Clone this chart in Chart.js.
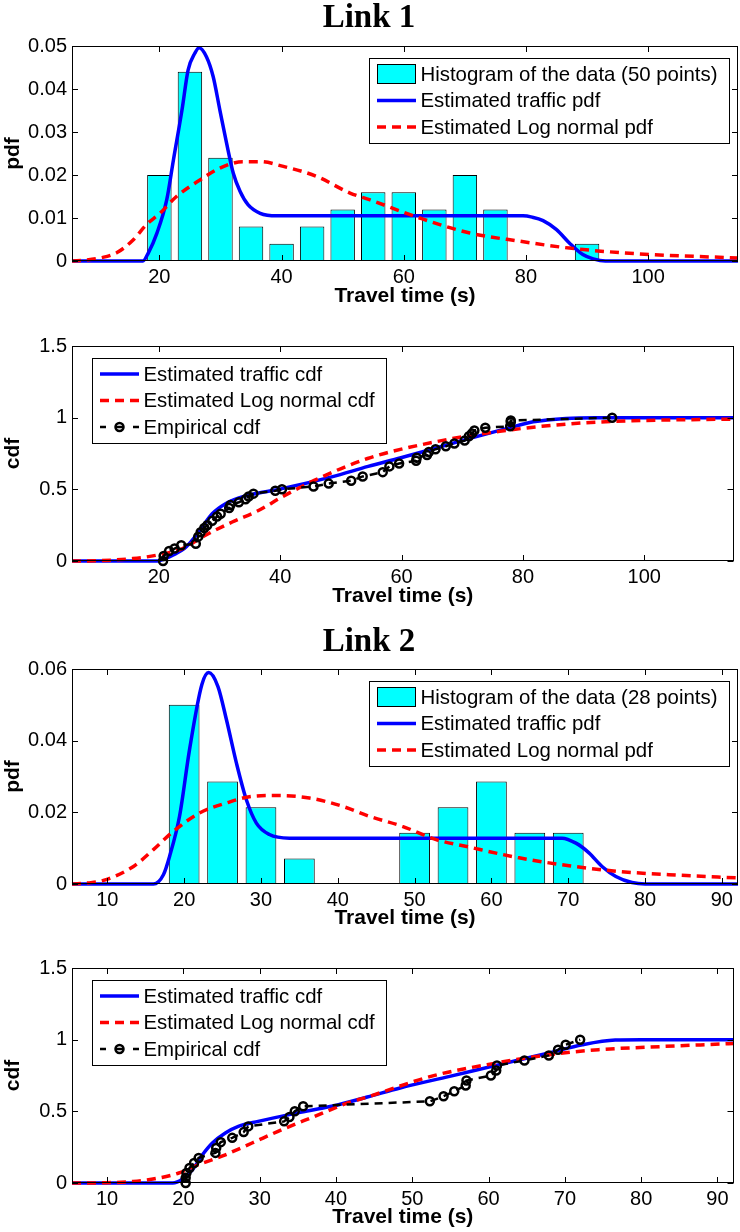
<!DOCTYPE html>
<html>
<head>
<meta charset="utf-8">
<script src="https://cdn.jsdelivr.net/npm/chart.js@4.4.1/dist/chart.umd.min.js"></script>
<style>
  body { margin: 0; background: #fff; }
  #wrap { position: relative; width: 740px; height: 1232px; }
  canvas { position: absolute; left: 0; }
</style>
</head>
<body>
<div id="wrap">
  <canvas id="pdf1" width="740" height="308" style="top:0px"></canvas>
  <canvas id="cdf1" width="740" height="304" style="top:308px"></canvas>
  <canvas id="pdf2" width="740" height="318" style="top:612px"></canvas>
  <canvas id="cdf2" width="740" height="302" style="top:930px"></canvas>
</div>
<script>
// ---- data ----
// link 1
var l1XRange = [5.7, 114.7];
var l1XTicks = [20, 40, 60, 80, 100];
var l1BinCenters = [20, 25, 30, 35, 40, 45, 50, 55, 60, 65, 70, 75, 90];
var l1BinDensity = [0.020, 0.044, 0.024, 0.008, 0.004, 0.008, 0.012, 0.016, 0.016, 0.012, 0.020, 0.012, 0.004];
var l1TrafficPdf = [[5.7,0],[17.3,0],[18.2,0.0019],[19.6,0.0065],[21.2,0.0142],[22.3,0.0235],[23.7,0.0351],
  [24.7,0.0444],[25.8,0.0483],[26.5,0.0496],[27.7,0.0475],[28.8,0.0429],[29.9,0.0351],[31.0,0.0274],
  [32.1,0.0204],[33.2,0.0162],[34.5,0.0131],[36.5,0.0111],[39.2,0.0105],[79.5,0.0105],[81,0.0102],
  [82.8,0.0094],[85,0.0073],[87.1,0.0042],[89.3,0.0015],[91,0.0005],[93,0],[114.7,0]];
var l1LognPdf = [[5.7,0],[8,0.0002],[10.3,0.0007],[13,0.0019],[15.7,0.0049],[17.9,0.0085],[20.1,0.0111],
  [22.8,0.015],[26.7,0.0189],[29.9,0.0216],[33.7,0.0231],[36.5,0.0231],[40.3,0.022],[45.7,0.0197],
  [51.2,0.0158],[54.5,0.0142],[62.6,0.010],[70.8,0.0065],[79,0.0046],[87.1,0.003],[98,0.0017],[114.7,0.0007]];
var l1TrafficCdf = [[5.7,0],[19.8,0],[21,0.015],[22.3,0.04],[24.5,0.098],[26.7,0.21],[28.8,0.33],[31.0,0.40],
  [33.2,0.44],[36.5,0.475],[40.3,0.505],[48.5,0.587],[54.5,0.66],[59.9,0.72],[65.4,0.785],[70.8,0.85],
  [77.4,0.925],[81.7,0.971],[87.1,0.995],[92,1.0],[114.7,1.0]];
var l1LognCdf = [[5.7,0],[10,0.002],[15.7,0.017],[19.6,0.04],[23.9,0.087],[27.7,0.18],[32.1,0.272],[36.5,0.354],
  [40.3,0.447],[45.7,0.564],[54.4,0.715],[65.4,0.83],[76.2,0.905],[87.1,0.955],[98,0.978],[114.7,0.99]];
var l1Empirical = [[20.7,0],[20.8,0.035],[21.7,0.07],[22.6,0.087],[23.7,0.11],[26.1,0.12],[26.5,0.17],[26.9,0.2],
  [27.5,0.23],[28,0.25],[28.8,0.28],[29.6,0.31],[30.2,0.33],[31.6,0.37],[31.8,0.39],[33.2,0.41],[34.3,0.43],
  [34.8,0.45],[35.6,0.47],[39.2,0.49],[40.3,0.5],[45.5,0.52],[48,0.54],[51.7,0.56],[53.6,0.59],[56.9,0.62],
  [58,0.66],[59.6,0.68],[62.4,0.7],[62.5,0.72],[64.2,0.74],[64.5,0.76],[65.6,0.78],[67.3,0.8],[68.7,0.82],
  [70.4,0.84],[71.1,0.87],[71.6,0.89],[72,0.91],[73.8,0.93],[77.9,0.94],[78,0.97],[78,0.98],[94.7,1.0]];

// link 2
var l2XRange = [5.4, 92.1];
var l2XTicks = [10, 20, 30, 40, 50, 60, 70, 80, 90];
var l2BinCenters = [20, 25, 30, 35, 50, 55, 60, 65, 70];
var l2BinDensity = [0.05, 0.0286, 0.0214, 0.0071, 0.0143, 0.0214, 0.0286, 0.0143, 0.0143];
var l2TrafficPdf = [[5.4,0],[16,0],[17.3,0.0026],[18.1,0.0077],[19.4,0.0189],[20.7,0.0375],[22.3,0.0556],
  [23.2,0.059],[24.4,0.0551],[25.5,0.0459],[26.8,0.0338],[28.1,0.0235],[29.4,0.017],[31.1,0.0138],
  [33.7,0.0128],[69.2,0.0128],[71,0.0114],[72.7,0.0087],[74.4,0.0049],[76.2,0.0021],[78.3,0.0004],[80,0],[92.1,0]];
var l2LognPdf = [[5.4,0],[7.5,0.0003],[9.5,0.001],[13.4,0.0049],[16,0.0096],[18.6,0.0147],[22,0.0198],
  [25.5,0.0226],[29,0.0245],[32,0.0247],[36.3,0.024],[40.6,0.0217],[44.1,0.0189],[48.4,0.0161],[52.8,0.0124],
  [57.1,0.0103],[63.6,0.0073],[70.1,0.0051],[76.6,0.0035],[83.1,0.0026],[92.1,0.0017]];
var l2TrafficCdf = [[5.4,0],[18.6,0],[19.9,0.028],[21.2,0.093],[22.5,0.197],[23.8,0.279],[25.5,0.349],
  [27.2,0.395],[29.8,0.43],[35,0.489],[39.4,0.535],[44.1,0.6],[48.4,0.663],[54.9,0.744],[61.4,0.826],
  [67.9,0.907],[72.3,0.965],[76.6,0.998],[80,1],[92.1,1]];
var l2LognCdf = [[5.4,0],[10,0.002],[13.4,0.011],[16.8,0.035],[19.4,0.07],[22,0.128],[25.5,0.197],[29,0.279],
  [32.9,0.372],[37.2,0.465],[41.5,0.558],[44.1,0.6],[52.8,0.749],[61,0.837],[67.9,0.895],[74.4,0.93],
  [83.1,0.953],[92.1,0.973]];
var l2Empirical = [[20.3,0],[20.3,0.036],[20.4,0.07],[20.8,0.105],[21.4,0.14],[22,0.175],[24.2,0.21],[24.3,0.245],
  [24.9,0.285],[26.4,0.315],[27.9,0.355],[28.5,0.395],[33.2,0.43],[33.9,0.46],[34.6,0.5],[35.7,0.535],
  [52.3,0.57],[54.1,0.605],[55.5,0.64],[57,0.68],[57.1,0.715],[60.3,0.75],[61,0.785],[61.1,0.82],[64.7,0.855],
  [67.9,0.89],[69.1,0.93],[70.1,0.965],[72,1.0]];

var pdf1YTicks = [0, 0.01, 0.02, 0.03, 0.04, 0.05];
var pdf2YTicks = [0, 0.02, 0.04, 0.06];
var cdfYTicks = [0, 0.5, 1, 1.5];

Chart.defaults.font.family = '"Liberation Sans", Arial, Helvetica, sans-serif';
Chart.defaults.color = '#000';

function pts(pairs) {
  return pairs.map(function(p) { return {x: p[0], y: p[1]}; });
}

// matlab style box with inward ticks on all four sides
var boxPlugin = {
  id: 'matlabBox',
  afterDatasetsDraw: function(chart) {
    var ctx = chart.ctx, a = chart.chartArea, x = chart.scales.x, y = chart.scales.y;
    ctx.save();
    ctx.strokeStyle = '#000';
    ctx.lineWidth = 1;
    ctx.beginPath();
    x.ticks.forEach(function(t) {
      var px = Math.round(x.getPixelForValue(t.value)) + 0.5;
      ctx.moveTo(px, a.bottom); ctx.lineTo(px, a.bottom - 6);
      ctx.moveTo(px, a.top); ctx.lineTo(px, a.top + 6);
    });
    y.ticks.forEach(function(t) {
      var py = Math.round(y.getPixelForValue(t.value)) + 0.5;
      ctx.moveTo(a.left, py); ctx.lineTo(a.left + 6, py);
      ctx.moveTo(a.right, py); ctx.lineTo(a.right - 6, py);
    });
    ctx.stroke();
    ctx.strokeRect(Math.round(a.left) + 0.5, Math.round(a.top) + 0.5, Math.round(a.width) - 1, Math.round(a.height) - 1);
    ctx.restore();
  }
};

// legend in a boxed frame inside the axes
var boxLegend = {
  id: 'boxLegend',
  afterDraw: function(chart, args, opts) {
    var ctx = chart.ctx, a = chart.chartArea;
    var sets = chart.data.datasets;
    ctx.save();
    ctx.font = '20.4px "Liberation Sans", Arial, sans-serif';
    var textW = Math.max.apply(null, sets.map(function(d) { return ctx.measureText(d.label).width; }));
    var w = Math.round(8 + 39 + 4.5 + textW + 11.5), h = 85;
    var left = Math.round(opts.side === 'right' ? a.right - 9 - w : a.left + 20);
    var top = Math.round(a.top + 11.5);
    ctx.fillStyle = '#fff';
    ctx.fillRect(left, top, w, h);
    ctx.strokeStyle = '#000';
    ctx.lineWidth = 1;
    ctx.strokeRect(left + 0.5, top + 0.5, w, h);
    sets.forEach(function(d, i) {
      var cy = top + 16 + i * 26.5;
      var x0 = left + 8, x1 = x0 + 39;
      if (d.type === 'bar') {
        ctx.fillStyle = d.backgroundColor;
        ctx.fillRect(x0, cy - 10, 39, 20);
        ctx.strokeStyle = '#000';
        ctx.lineWidth = 1;
        ctx.strokeRect(x0 + 0.5, cy - 9.5, 38, 19);
      } else if (d.pointRadius > 0) {
        ctx.strokeStyle = d.borderColor;
        ctx.lineWidth = d.borderWidth;
        ctx.beginPath();
        ctx.moveTo(x0, cy); ctx.lineTo(x0 + 6, cy);
        ctx.moveTo(x1 - 6, cy); ctx.lineTo(x1, cy);
        ctx.stroke();
        ctx.beginPath();
        ctx.arc(x0 + 19.5, cy, d.pointRadius, 0, Math.PI * 2);
        ctx.lineWidth = d.pointBorderWidth;
        ctx.stroke();
        ctx.beginPath();
        ctx.moveTo(x0 + 16, cy); ctx.lineTo(x0 + 23, cy);
        ctx.stroke();
      } else {
        ctx.strokeStyle = d.borderColor;
        ctx.lineWidth = d.borderWidth;
        ctx.setLineDash(d.borderDash || []);
        ctx.beginPath();
        ctx.moveTo(x0, cy); ctx.lineTo(x1, cy);
        ctx.stroke();
        ctx.setLineDash([]);
      }
      ctx.fillStyle = '#000';
      ctx.textBaseline = 'middle';
      ctx.textAlign = 'left';
      ctx.fillText(d.label, x1 + 4.5, cy + 1);
    });
    ctx.restore();
  }
};

function scalesFor(xRange, xTicks, yTicks, yTitle, xH, xPad) {
  return {
    x: {
      type: 'linear', min: xRange[0], max: xRange[1], offset: false,
      afterBuildTicks: function(s) { s.ticks = xTicks.map(function(v) { return {value: v}; }); },
      afterFit: function(s) { s.height = xH; },
      grid: {display: false, drawTicks: false}, border: {display: false},
      ticks: {autoSkip: false, maxRotation: 0, padding: 4, font: {size: 20}, color: '#000'},
      title: {display: true, text: 'Travel time (s)', color: '#000',
        font: {size: 21, weight: 'bold', lineHeight: 1}, padding: {top: 0, bottom: xPad}}
    },
    y: {
      type: 'linear', min: yTicks[0], max: yTicks[yTicks.length - 1],
      afterBuildTicks: function(s) { s.ticks = yTicks.map(function(v) { return {value: v}; }); },
      afterFit: function(s) { s.width = 72; },
      grid: {display: false, drawTicks: false}, border: {display: false},
      ticks: {autoSkip: false, padding: 5, font: {size: 20}, color: '#000',
        callback: function(v) { return String(parseFloat(v.toFixed(3))); }},
      title: {display: true, text: yTitle, color: '#000',
        font: {size: 21, weight: 'bold'}, padding: {top: 1, bottom: 0}}
    }
  };
}

function titleFor(text, padTop, padBottom) {
  return {display: true, text: text, color: '#000',
    font: {family: '"Liberation Serif", "Times New Roman", serif', size: 33, weight: 'bold', lineHeight: 1},
    padding: {top: padTop, bottom: padBottom}};
}

function pdfDatasets(n, centers, dens, traffic, logn) {
  return [
    {type: 'bar', label: 'Histogram of the data (' + n + ' points)', order: 3,
      data: centers.map(function(c, i) { return {x: c, y: dens[i]}; }),
      backgroundColor: '#00FFFF', borderColor: '#000', borderWidth: 1, borderSkipped: false,
      barPercentage: 0.8, categoryPercentage: 1.0},
    {type: 'line', label: 'Estimated traffic pdf', order: 2, data: pts(traffic), clip: 5,
      borderColor: '#0000FF', borderWidth: 3.5, pointRadius: 0, cubicInterpolationMode: 'monotone'},
    {type: 'line', label: 'Estimated Log normal pdf', order: 1, data: pts(logn), clip: 5,
      borderColor: '#FF0000', borderWidth: 3.5, borderDash: [9, 6], pointRadius: 0, cubicInterpolationMode: 'monotone'}
  ];
}

function cdfDatasets(traffic, logn, emp) {
  return [
    {type: 'line', label: 'Estimated traffic cdf', order: 3, data: pts(traffic), clip: 5,
      borderColor: '#0000FF', borderWidth: 3.5, pointRadius: 0, cubicInterpolationMode: 'monotone'},
    {type: 'line', label: 'Estimated Log normal cdf', order: 2, data: pts(logn), clip: 5,
      borderColor: '#FF0000', borderWidth: 3.5, borderDash: [9, 6], pointRadius: 0, cubicInterpolationMode: 'monotone'},
    {type: 'line', label: 'Empirical cdf', order: 1, data: pts(emp), clip: 8,
      borderColor: '#000', borderWidth: 2.5, borderDash: [8, 6], tension: 0,
      pointRadius: 4, pointBorderWidth: 2.5, pointBorderColor: '#000', pointBackgroundColor: 'rgba(0,0,0,0)'}
  ];
}

function makeChart(id, datasets, scales, title, padTop, side) {
  return new Chart(document.getElementById(id), {
    type: 'line',
    data: {datasets: datasets},
    options: {
      responsive: false, animation: false, devicePixelRatio: 1,
      layout: {padding: {top: padTop, left: 0, right: 2, bottom: 0}},
      scales: scales,
      plugins: {
        legend: {display: false},
        tooltip: {enabled: false},
        title: title || {display: false},
        boxLegend: {side: side}
      }
    },
    plugins: [boxPlugin, boxLegend]
  });
}

makeChart('pdf1', pdfDatasets(50, l1BinCenters, l1BinDensity, l1TrafficPdf, l1LognPdf),
  scalesFor(l1XRange, l1XTicks, pdf1YTicks, 'pdf', 47, 1), titleFor('Link 1', 2, 11), 0, 'right');
makeChart('cdf1', cdfDatasets(l1TrafficCdf, l1LognCdf, l1Empirical),
  scalesFor(l1XRange, l1XTicks, cdfYTicks, 'cdf', 51, 5), null, 38, 'left');
makeChart('pdf2', pdfDatasets(28, l2BinCenters, l2BinDensity, l2TrafficPdf, l2LognPdf),
  scalesFor(l2XRange, l2XTicks, pdf2YTicks, 'pdf', 46, 1), titleFor('Link 2', 14, 10), 0, 'right');
makeChart('cdf2', cdfDatasets(l2TrafficCdf, l2LognCdf, l2Empirical),
  scalesFor(l2XRange, l2XTicks, cdfYTicks, 'cdf', 49, 4), null, 38, 'left');
</script>
</body>
</html>
